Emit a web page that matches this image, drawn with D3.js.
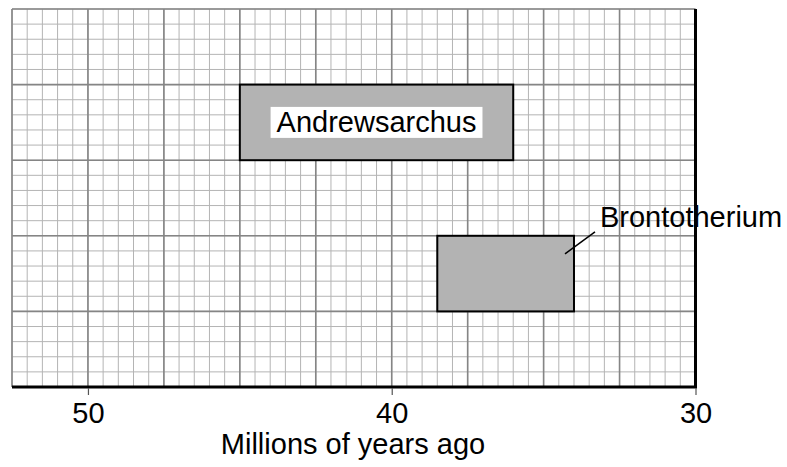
<!DOCTYPE html>
<html>
<head>
<meta charset="utf-8">
<script src="https://cdn.jsdelivr.net/npm/d3@7"></script>
<style>
  body { margin: 0; background: #fff; }
  text { font-family: "Liberation Sans", Arial, sans-serif; fill: #000; }
</style>
</head>
<body>
<div id="chart"></div>
<script>
// time ranges (millions of years ago)
var taxa = ["Andrewsarchus", "Brontotherium"];
var startMya = [45, 38.5];
var endMya = [36, 34];
var rowLow = [3, 1];
var rowHigh = [4, 2];
var xTicks = [50, 40, 30];

var w = 787,
    h = 467;

var svg = d3.select("#chart")
    .append("svg")
    .attr("width", w)
    .attr("height", h);

var xScale = d3.scaleLinear()
    .domain([52.5, 30])
    .range([12, 695.5]);

var yScale = d3.scaleLinear()
    .domain([0, 5])
    .range([387, 9]);

//grid paper: minor lines first, then major lines on top
var grid = svg.append("g").attr("class", "grid");

var xMinor = d3.range(30, 52.51, 0.5);
var yMinor = d3.range(0, 5.01, 0.2);
var xMajor = d3.range(30, 52.51, 2.5);
var yMajor = d3.range(0, 5.01, 1);

grid.append("g")
    .selectAll("line")
    .data(xMinor)
    .enter().append("line")
    .attr("x1", function (d) { return xScale(d); })
    .attr("x2", function (d) { return xScale(d); })
    .attr("y1", yScale(0))
    .attr("y2", yScale(5))
    .attr("stroke", "#b4b4b4")
    .attr("stroke-width", 1);

grid.append("g")
    .selectAll("line")
    .data(yMinor)
    .enter().append("line")
    .attr("x1", xScale(52.5))
    .attr("x2", xScale(30))
    .attr("y1", function (d) { return yScale(d); })
    .attr("y2", function (d) { return yScale(d); })
    .attr("stroke", "#b4b4b4")
    .attr("stroke-width", 1);

grid.append("g")
    .selectAll("line")
    .data(xMajor)
    .enter().append("line")
    .attr("x1", function (d) { return xScale(d); })
    .attr("x2", function (d) { return xScale(d); })
    .attr("y1", yScale(0))
    .attr("y2", yScale(5))
    .attr("stroke", "#858585")
    .attr("stroke-width", 1.6);

grid.append("g")
    .selectAll("line")
    .data(yMajor)
    .enter().append("line")
    .attr("x1", xScale(52.5))
    .attr("x2", xScale(30))
    .attr("y1", function (d) { return yScale(d); })
    .attr("y2", function (d) { return yScale(d); })
    .attr("stroke", "#858585")
    .attr("stroke-width", 1.6);

//range boxes
var boxes = svg.append("g")
    .selectAll("rect")
    .data(taxa)
    .enter().append("rect")
    .attr("x", function (d, i) { return xScale(startMya[i]); })
    .attr("y", function (d, i) { return yScale(rowHigh[i]); })
    .attr("width", function (d, i) { return xScale(endMya[i]) - xScale(startMya[i]); })
    .attr("height", function (d, i) { return yScale(rowLow[i]) - yScale(rowHigh[i]); })
    .attr("fill", "#b3b3b3")
    .attr("stroke", "#000")
    .attr("stroke-width", 2);

//axis lines (bottom and right edge)
svg.append("line")
    .attr("x1", xScale(52.5))
    .attr("x2", xScale(30) + 1.5)
    .attr("y1", yScale(0))
    .attr("y2", yScale(0))
    .attr("stroke", "#000")
    .attr("stroke-width", 3);

svg.append("line")
    .attr("x1", xScale(30))
    .attr("x2", xScale(30))
    .attr("y1", yScale(5))
    .attr("y2", yScale(0))
    .attr("stroke", "#000")
    .attr("stroke-width", 3);

//ticks and tick labels
var axis = d3.axisBottom(xScale)
    .tickValues(xTicks)
    .tickSize(7)
    .tickPadding(7)
    .tickFormat(d3.format("d"));

var gX = svg.append("g")
    .attr("transform", "translate(0," + (yScale(0) + 1) + ")")
    .call(axis);

gX.select(".domain").remove();
gX.selectAll(".tick line").attr("stroke", "#555").attr("stroke-width", 1.2);
gX.selectAll(".tick text")
    .style("font-family", "'Liberation Sans', Arial, sans-serif")
    .style("font-size", "29px")
    .attr("fill", "#000");

svg.append("text")
    .attr("x", 353)
    .attr("y", 454)
    .attr("text-anchor", "middle")
    .style("font-size", "29px")
    .text("Millions of years ago");

//Andrewsarchus label inside its box, on white
var aMid = (xScale(startMya[0]) + xScale(endMya[0])) / 2;
var aY = (yScale(rowHigh[0]) + yScale(rowLow[0])) / 2;
var aLabel = svg.append("g");
var aBg = aLabel.append("rect").attr("fill", "#fff");
var aText = aLabel.append("text")
    .attr("x", aMid)
    .attr("y", aY + 10)
    .attr("text-anchor", "middle")
    .style("font-size", "29px")
    .text(taxa[0]);
var bb = aText.node().getBBox();
aBg.attr("x", bb.x - 6)
    .attr("y", aY - 15.5)
    .attr("width", bb.width + 12)
    .attr("height", 31);

//Brontotherium label outside, with a leader line
var bx = xScale(endMya[1]);
var by = yScale(rowHigh[1]);
svg.append("line")
    .attr("x1", bx - 9)
    .attr("y1", by + 18)
    .attr("x2", bx + 21)
    .attr("y2", by - 4)
    .attr("stroke", "#000")
    .attr("stroke-width", 1.5);

svg.append("text")
    .attr("x", bx + 26)
    .attr("y", by - 8.5)
    .style("font-size", "29px")
    .text(taxa[1]);
</script>
</body>
</html>
